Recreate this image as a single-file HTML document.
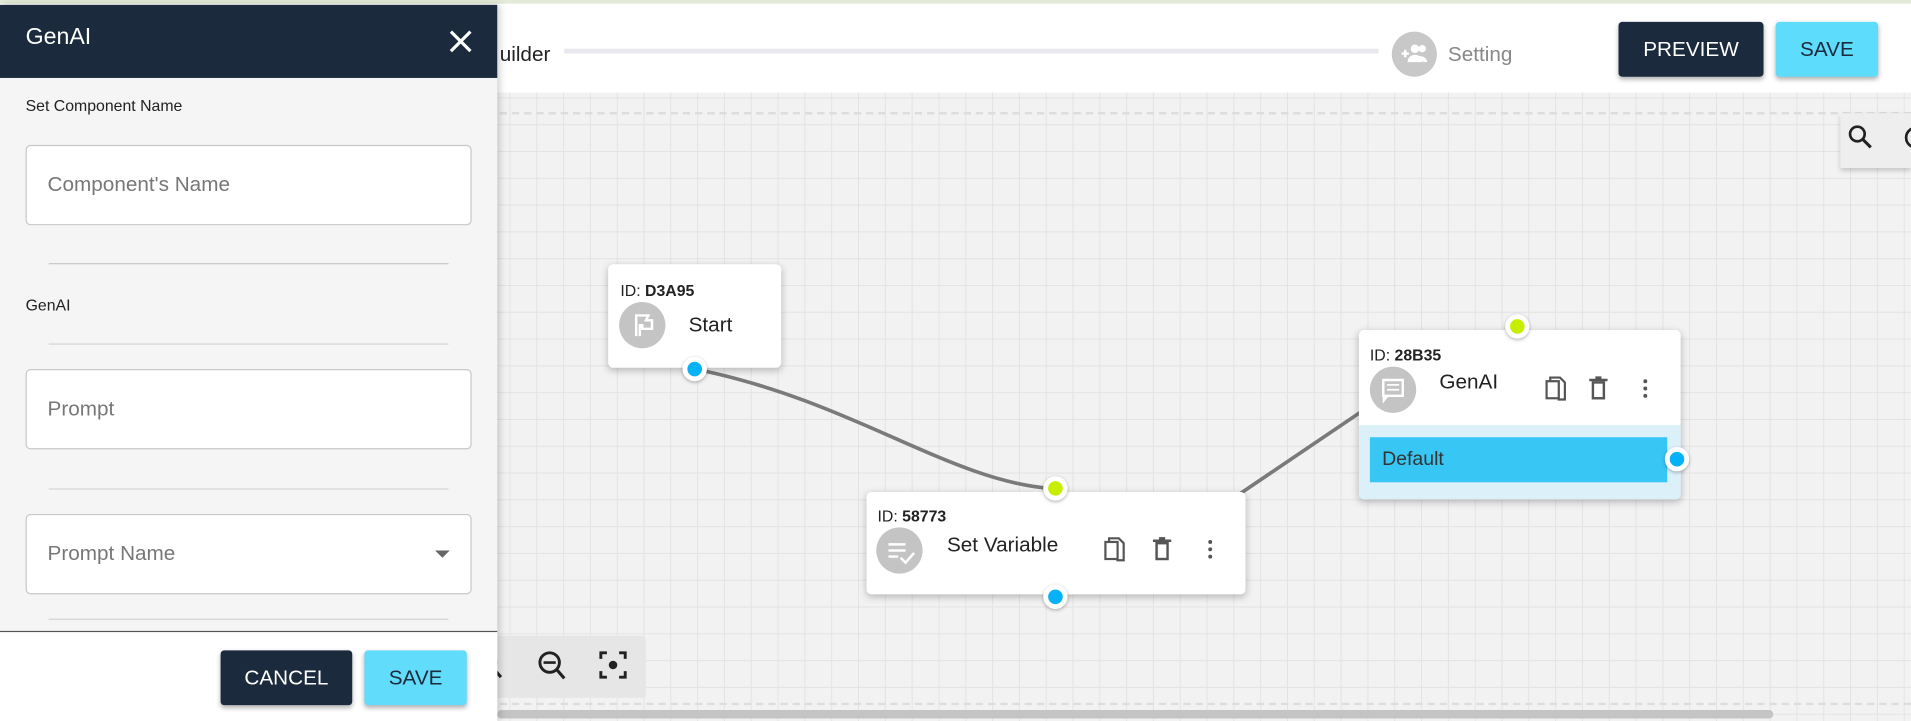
<!DOCTYPE html>
<html><head><meta charset="utf-8">
<style>
html,body{margin:0;padding:0;width:1911px;height:721px;overflow:hidden;background:#fff;font-family:"Liberation Sans",sans-serif;}
#w{position:absolute;left:0;top:0;width:1568px;height:592px;transform:scale(1.21875,1.2179);transform-origin:0 0;overflow:hidden;background:#fff;}
.a{position:absolute;}
.btn{position:absolute;display:flex;align-items:center;justify-content:center;font-size:17px;border-radius:3px;box-shadow:0 2px 4px rgba(0,0,0,.3);}
.node{position:absolute;background:#fff;border-radius:4px;box-shadow:0 2px 6px rgba(0,0,0,.25);}
.id{position:absolute;font-size:13px;color:#222;}
.ic{position:absolute;width:38px;height:38px;border-radius:50%;background:#c4c4c4;}
.port{position:absolute;width:12px;height:12px;border-radius:50%;border:4px solid #fff;box-shadow:0 1px 3px rgba(0,0,0,.3);}
.inp{position:absolute;left:21px;width:364px;height:64px;background:#fff;border:1px solid #c8c8c8;border-radius:4px;}
.ph{position:absolute;left:17px;top:22px;font-size:17px;color:#777;}
.dv{position:absolute;left:40px;width:328px;height:1px;background:#d4d4d4;}
</style></head><body><div id="w">
<div class="a" style="left:0;top:0;width:1568px;height:3px;background:#e4ead8"></div>
<div class="a" style="left:0;top:76px;width:1568px;height:516px;background-color:#f2f2f2;background-image:linear-gradient(#e3e3e3 1px,transparent 1px),linear-gradient(90deg,#e3e3e3 1px,transparent 1px);background-size:22px 22px;background-position:0 4px"></div>
<div class="a" style="left:400px;top:92px;width:1168px;border-top:2px dashed #ddd"></div>
<div class="a" style="left:400px;top:577px;width:1168px;border-top:2px dashed #ddd"></div>
<div class="a" style="left:408px;top:583px;width:1047px;height:7px;background:#c4c4c4;border-radius:4px"></div>
<div class="a" style="left:410px;top:35px;font-size:17px;color:#222">uilder</div>
<div class="a" style="left:463px;top:40px;width:668px;height:4px;background:#e8e8ee"></div>
<div class="a" style="left:1142px;top:26px;width:37px;height:37px;border-radius:50%;background:#c8c8c8">
<svg width="37" height="37"><path d="M8 18h6M11 15v6" stroke="#fff" stroke-width="2"/><circle cx="19" cy="14" r="3.5" fill="#fff"/><circle cx="25" cy="14" r="3" fill="#fff"/><path d="M13 25c0-4 3-6 6-6s6 2 6 6z M22 20c3 0 7 1 7 5h-3" fill="#fff"/></svg></div>
<div class="a" style="left:1188px;top:35px;font-size:17px;color:#888">Setting</div>
<div class="btn" style="left:1328px;top:18px;width:119px;height:45px;background:#1b2a3c;color:#fff">PREVIEW</div>
<div class="btn" style="left:1457px;top:18px;width:84px;height:45px;background:#5edcfb;color:#1b2a3c">SAVE</div>
<div class="a" style="left:1510px;top:93px;width:58px;height:45px;background:#eee;box-shadow:0 2px 4px rgba(0,0,0,.2)">
<svg width="58" height="45"><circle cx="14" cy="17" r="6" fill="none" stroke="#222" stroke-width="2.2"/><line x1="18.5" y1="21.5" x2="25" y2="28" stroke="#222" stroke-width="2.5"/><circle cx="62" cy="20" r="8" fill="none" stroke="#222" stroke-width="2.2"/></svg></div>

<svg class="a" style="left:0;top:0" width="1568" height="592">
<path d="M575 304 C 700 330, 780 395, 862 401" fill="none" stroke="#7a7a7a" stroke-width="3"/>
<path d="M1018 405 L1117 338" fill="none" stroke="#7a7a7a" stroke-width="3"/>
</svg>

<div class="node" style="left:499px;top:217px;width:142px;height:85px">
<div class="id" style="left:10px;top:14px">ID: <b>D3A95</b></div>
<div class="ic" style="left:9px;top:31px"><svg width="38" height="38"><path d="M14 28 V11 H24 L22 15 H27 V22 H19 V19 H17 V28" fill="none" stroke="#fff" stroke-width="2"/></svg></div>
<div class="a" style="left:66px;top:40px;font-size:17px;color:#222">Start</div>
</div>
<div class="port" style="left:560px;top:293px;background:#06b2f7"></div>

<div class="node" style="left:711px;top:404px;width:311px;height:84px">
<div class="id" style="left:9px;top:12px">ID: <b>58773</b></div>
<div class="ic" style="left:8px;top:29px"><svg width="38" height="38"><path d="M10 14h14M10 19h14M10 24h8" stroke="#fff" stroke-width="2"/><path d="M20 25l4 4 7-8" fill="none" stroke="#fff" stroke-width="2"/></svg></div>
<div class="a" style="left:66px;top:34px;font-size:17px;color:#222">Set Variable</div>
<svg class="a" style="left:190px;top:36px" width="100" height="24"><rect x="6" y="5" width="10" height="14" fill="none" stroke="#555" stroke-width="1.8"/><path d="M9 5V2h8l4 4v14h-6" fill="none" stroke="#555" stroke-width="1.8"/><rect x="48" y="6" width="9" height="13" fill="none" stroke="#555" stroke-width="2"/><path d="M45 4h15M50 2h5" stroke="#555" stroke-width="2"/><circle cx="92" cy="5" r="1.6" fill="#555"/><circle cx="92" cy="11" r="1.6" fill="#555"/><circle cx="92" cy="17" r="1.6" fill="#555"/></svg>
</div>
<div class="port" style="left:856px;top:391px;background:#c6ef00"></div>
<div class="port" style="left:856px;top:480px;background:#06b2f7"></div>

<div class="node" style="left:1115px;top:271px;width:264px;height:139px;overflow:hidden">
<div class="id" style="left:9px;top:13px">ID: <b>28B35</b></div>
<div class="ic" style="left:9px;top:30px"><svg width="38" height="38"><rect x="11" y="11" width="16" height="13" fill="none" stroke="#fff" stroke-width="2"/><path d="M14 15h10M14 19h10" stroke="#fff" stroke-width="1.5"/><path d="M11 24v5l4-5" fill="#fff" stroke="#fff"/></svg></div>
<div class="a" style="left:66px;top:33px;font-size:17px;color:#222">GenAI</div>
<svg class="a" style="left:148px;top:37px" width="100" height="24"><rect x="6" y="5" width="10" height="14" fill="none" stroke="#555" stroke-width="1.8"/><path d="M9 5V2h8l4 4v14h-6" fill="none" stroke="#555" stroke-width="1.8"/><rect x="44" y="6" width="9" height="13" fill="none" stroke="#555" stroke-width="2"/><path d="M41 4h15M46 2h5" stroke="#555" stroke-width="2"/><circle cx="87" cy="5" r="1.6" fill="#555"/><circle cx="87" cy="11" r="1.6" fill="#555"/><circle cx="87" cy="17" r="1.6" fill="#555"/></svg>
<div class="a" style="left:0;top:78px;width:264px;height:61px;background:#dcf0fa"></div>
<div class="a" style="left:9px;top:88px;width:244px;height:37px;background:#38c6f4"></div>
<div class="a" style="left:19px;top:98px;font-size:16px;color:#333">Default</div>
</div>
<div class="port" style="left:1235px;top:258px;background:#c6ef00"></div>
<div class="port" style="left:1366px;top:367px;background:#06b2f7"></div>

<div class="a" style="left:390px;top:522px;width:140px;height:51px;background:#e6e6e6;border-radius:3px">
<svg width="140" height="51"><circle cx="10" cy="22" r="7" fill="none" stroke="#222" stroke-width="2.4"/><line x1="15" y1="27" x2="21" y2="34" stroke="#222" stroke-width="2.6"/><circle cx="61" cy="22" r="8" fill="none" stroke="#222" stroke-width="2.4"/><line x1="56" y1="22" x2="66" y2="22" stroke="#222" stroke-width="2.2"/><line x1="67" y1="28" x2="73" y2="35" stroke="#222" stroke-width="2.6"/><path d="M103 19v-5h5M123 19v-5h-5M103 29v5h5M123 29v5h-5" fill="none" stroke="#222" stroke-width="2.4"/><circle cx="113" cy="24" r="3.5" fill="#222"/></svg></div>

<div class="a" style="left:0;top:4px;width:408px;height:588px;background:#f5f5f5;box-shadow:2px 0 6px rgba(0,0,0,.2)">
<div class="a" style="left:0;top:0;width:408px;height:60px;background:#1b2b3d"></div>
<div class="a" style="left:21px;top:16px;font-size:19px;color:#fff">GenAI</div>
<svg class="a" style="left:368px;top:20px" width="20" height="20"><path d="M2 2L18 18M18 2L2 18" stroke="#fff" stroke-width="2.6"/></svg>
<div class="a" style="left:21px;top:75px;font-size:13px;color:#222">Set Component Name</div>
<div class="inp" style="top:115px"><div class="ph">Component's Name</div></div>
<div class="dv" style="top:212px;background:#c8c8c8"></div>
<div class="a" style="left:21px;top:239px;font-size:13px;color:#222">GenAI</div>
<div class="dv" style="top:278px"></div>
<div class="inp" style="top:299px"><div class="ph">Prompt</div></div>
<div class="dv" style="top:397px"></div>
<div class="inp" style="top:418px"><div class="ph">Prompt Name</div><div class="a" style="left:335px;top:29px;width:0;height:0;border-left:6px solid transparent;border-right:6px solid transparent;border-top:6px solid #666"></div></div>
<div class="dv" style="top:504px"></div>
<div class="a" style="left:0;top:514px;width:408px;height:74px;background:#fff;border-top:1px solid #555"></div>
<div class="btn" style="left:181px;top:530px;width:108px;height:45px;background:#1b2a3c;color:#fff">CANCEL</div>
<div class="btn" style="left:299px;top:530px;width:84px;height:45px;background:#62dcfb;color:#1b2a3c">SAVE</div>
</div>
</div></body></html>
